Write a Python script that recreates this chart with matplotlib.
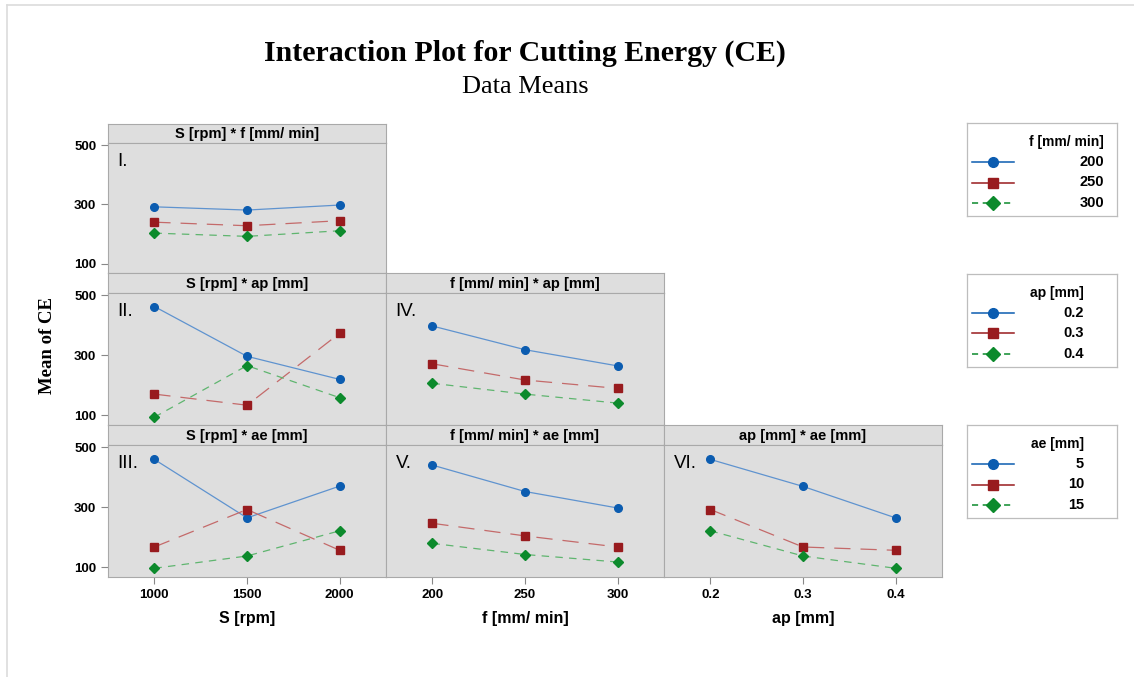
import matplotlib
matplotlib.use("Agg")
import matplotlib.pyplot as plt
from matplotlib.lines import Line2D

# factor levels
s_levels = ["1000", "1500", "2000"]
f_levels = ["200", "250", "300"]
ap_levels = ["0.2", "0.3", "0.4"]
ae_levels = ["5", "10", "15"]

# means of CE
sf_200 = [292, 281, 298]
sf_250 = [240, 228, 245]
sf_300 = [203, 192, 211]

sap_02 = [463, 297, 220]
sap_03 = [171, 134, 374]
sap_04 = [94, 266, 159]

sae_5 = [460, 265, 371]
sae_10 = [168, 293, 157]
sae_15 = [97, 138, 222]

fap_02 = [398, 319, 265]
fap_03 = [272, 218, 190]
fap_04 = [207, 171, 141]

fae_5 = [441, 353, 298]
fae_10 = [247, 205, 168]
fae_15 = [180, 143, 118]

apae_5 = [460, 370, 265]
apae_10 = [293, 168, 157]
apae_15 = [222, 138, 97]

y_ticks = [100, 300, 500]

W, H = 1134, 677
SANS = "Liberation Sans"
SERIF = "Liberation Serif"
PANEL_BG = "#dedede"
EDGE = "#a9a9a9"

styles = [
    dict(color="#0b5cb0", line="#5f93cf", marker="o", ms=5.5, ls="-", dashes=None),
    dict(color="#981b1e", line="#c46a6a", marker="s", ms=5.5, ls="--", dashes=(13, 8)),
    dict(color="#0c8a2c", line="#5fb56f", marker="D", ms=5.5, ls="--", dashes=(6, 5)),
]


def px_rect(x0, y0, x1, y1):
    return [x0 / W, 1 - y1 / H, (x1 - x0) / W, (y1 - y0) / H]


fig = plt.figure(figsize=(W / 100, H / 100), dpi=100)

# thin frame like the original screenshot
fig.add_artist(Line2D([7 / W, 7 / W], [0, 1 - 5 / H], color="#dcdcdc", lw=1.2))
fig.add_artist(Line2D([7 / W, 1], [1 - 5 / H, 1 - 5 / H], color="#dcdcdc", lw=1.2))

col_x = [108, 386, 664, 942]
row_y = [(124, 143, 273), (273, 293, 425), (425, 445, 577)]


def panel(row, col, title, tag, series, xlabels, show_x):
    x0, x1 = col_x[col], col_x[col + 1]
    htop, ptop, pbot = row_y[row]
    hax = fig.add_axes(px_rect(x0, htop, x1, ptop))
    hax.set_facecolor(PANEL_BG)
    hax.set_xticks([])
    hax.set_yticks([])
    for sp in hax.spines.values():
        sp.set_color(EDGE)
        sp.set_linewidth(0.8)
    hax.text(0.5, 0.47, title, ha="center", va="center", fontsize=10.5,
             fontweight="bold", family=SANS, transform=hax.transAxes)

    ax = fig.add_axes(px_rect(x0, ptop, x1, pbot))
    ax.set_facecolor(PANEL_BG)
    for sp in ax.spines.values():
        sp.set_color(EDGE)
        sp.set_linewidth(0.8)
    xs = range(len(xlabels))
    for vals, st in zip(series, styles):
        ln, = ax.plot(xs, vals, color=st["line"], lw=0.9, ls=st["ls"], zorder=2)
        if st["dashes"]:
            ln.set_dashes(st["dashes"])
        ax.plot(xs, vals, ls="none", marker=st["marker"], ms=st["ms"],
                color=st["color"], zorder=3)
    ax.set_xlim(-0.5, 2.5)
    ax.set_ylim(68, 508)
    ax.text(0.035, 0.86, tag, transform=ax.transAxes, fontsize=13.5,
            family=SANS, ha="left", va="center")
    ax.tick_params(colors="#888888", length=5, width=0.8, labelcolor="black",
                   labelsize=9.5)
    if col == 0:
        ax.set_yticks(y_ticks)
        ax.set_yticklabels([str(v) for v in y_ticks], fontweight="bold", family=SANS)
    else:
        ax.set_yticks([])
    if show_x:
        ax.set_xticks(list(xs))
        ax.set_xticklabels(xlabels, fontweight="bold", family=SANS)
    else:
        ax.set_xticks([])
    return ax


panel(0, 0, "S [rpm] * f [mm/ min]", "I.", [sf_200, sf_250, sf_300], s_levels, False)
panel(1, 0, "S [rpm] * ap [mm]", "II.", [sap_02, sap_03, sap_04], s_levels, False)
panel(2, 0, "S [rpm] * ae [mm]", "III.", [sae_5, sae_10, sae_15], s_levels, True)
panel(1, 1, "f [mm/ min] * ap [mm]", "IV.", [fap_02, fap_03, fap_04], f_levels, False)
panel(2, 1, "f [mm/ min] * ae [mm]", "V.", [fae_5, fae_10, fae_15], f_levels, True)
panel(2, 2, "ap [mm] * ae [mm]", "VI.", [apae_5, apae_10, apae_15], ap_levels, True)

# axis labels
for cx, lab in zip([247, 525, 803], ["S [rpm]", "f [mm/ min]", "ap [mm]"]):
    fig.text(cx / W, 1 - 619 / H, lab, ha="center", va="center", fontsize=11.5,
             fontweight="bold", family=SANS)
fig.text(47 / W, 1 - 345 / H, "Mean of CE", rotation=90, ha="center", va="center",
         fontsize=13.5, fontweight="bold", family=SERIF)

fig.text(525 / W, 1 - 53 / H, "Interaction Plot for Cutting Energy (CE)", ha="center",
         va="center", fontsize=21.5, fontweight="bold", family=SERIF)
fig.text(525 / W, 1 - 87 / H, "Data Means", ha="center", va="center", fontsize=19,
         family=SERIF)

# legends drawn as boxes on the right
legends = [
    ("f [mm/ min]", f_levels, 123, 1104),
    ("ap [mm]", ap_levels, 274, 1084),
    ("ae [mm]", ae_levels, 425, 1084),
]
for title, levels, top, txt_right in legends:
    lax = fig.add_axes(px_rect(967, top, 1117, top + 93))
    lax.set_xlim(967, 1117)
    lax.set_ylim(top + 93, top)
    lax.set_xticks([])
    lax.set_yticks([])
    for sp in lax.spines.values():
        sp.set_color("#bdbdbd")
        sp.set_linewidth(0.9)
    lax.text(txt_right, top + 19, title, ha="right", va="center", fontsize=10,
             fontweight="bold", family=SANS)
    for i, (lev, st) in enumerate(zip(levels, styles)):
        y = top + 39 + i * 20.5
        ln, = lax.plot([972, 1014], [y, y], color=st["color"], lw=1.1,
                       ls="--" if i == 2 else "-")
        if i == 2:
            ln.set_dashes((4, 3))
        lax.plot([993], [y], ls="none", marker=st["marker"], ms=7, color=st["color"])
        lax.text(txt_right, y, lev, ha="right", va="center", fontsize=10.5,
                 fontweight="bold", family=SANS)

fig.savefig("out.png", dpi=100)
